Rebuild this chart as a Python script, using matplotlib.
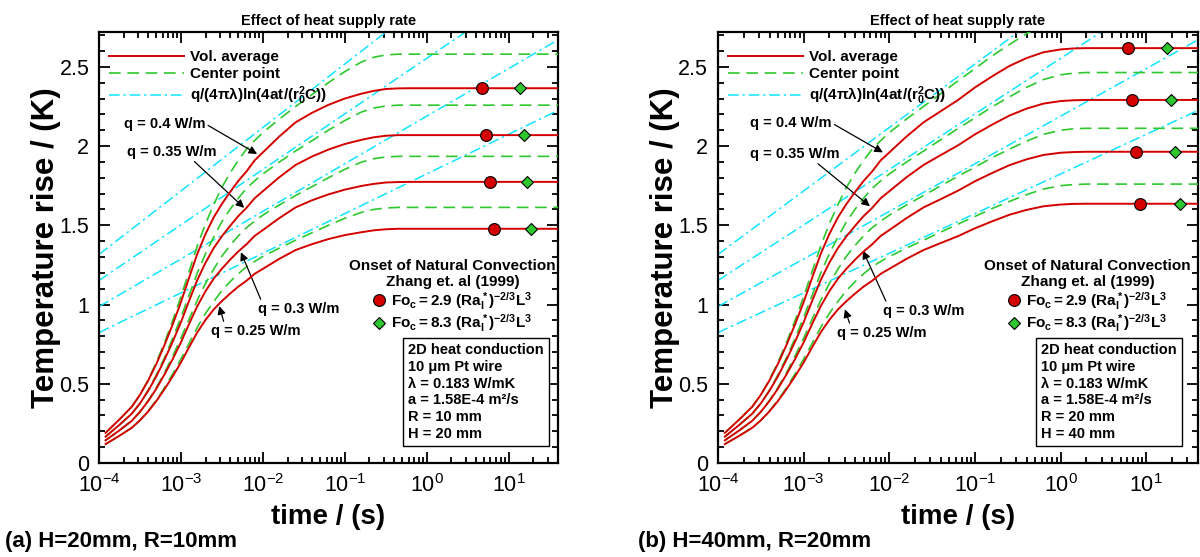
import numpy as np
import matplotlib
matplotlib.use('Agg')
import matplotlib.pyplot as plt
from matplotlib.lines import Line2D
from matplotlib.ticker import MultipleLocator, FormatStrFormatter, LogLocator, NullFormatter

plt.rcParams['font.family'] = ['Liberation Sans', 'DejaVu Sans']
plt.rcParams['mathtext.fontset'] = 'custom'
plt.rcParams['mathtext.rm'] = 'Liberation Sans'
plt.rcParams['mathtext.it'] = 'Liberation Sans:italic'
plt.rcParams['mathtext.bf'] = 'Liberation Sans:bold'

# ---- data ----
q_labels = ['q = 0.4 W/m', 'q = 0.35 W/m', 'q = 0.3 W/m', 'q = 0.25 W/m']

# panel (a): H=20mm, R=10mm  (log10 of time in s)
logt_a = [-3.92, -3.75, -3.6, -3.5, -3.4, -3.3, -3.2, -3.1, -3.0, -2.9, -2.8, -2.7, -2.6, -2.5, -2.4,
          -2.3, -2.2, -2.1, -2.0, -1.8, -1.6, -1.4, -1.2, -1.0, -0.8, -0.65, -0.5, -0.35, -0.2, 1.61]
red_a_q40 = [0.19, 0.275, 0.355, 0.43, 0.52, 0.625, 0.745, 0.875, 1.015, 1.17, 1.32, 1.445, 1.55, 1.635, 1.71,
             1.78, 1.84, 1.91, 1.96, 2.06, 2.15, 2.21, 2.26, 2.30, 2.33, 2.348, 2.36, 2.364, 2.365, 2.365]
red_a_q35 = [0.166, 0.241, 0.311, 0.376, 0.455, 0.547, 0.652, 0.766, 0.888, 1.024, 1.155, 1.264, 1.356, 1.431, 1.496,
             1.558, 1.61, 1.671, 1.715, 1.803, 1.881, 1.934, 1.978, 2.013, 2.039, 2.055, 2.065, 2.069, 2.069, 2.069]
red_a_q30 = [0.143, 0.206, 0.266, 0.323, 0.39, 0.469, 0.559, 0.656, 0.761, 0.878, 0.99, 1.084, 1.163, 1.226, 1.283,
             1.335, 1.38, 1.433, 1.47, 1.545, 1.613, 1.658, 1.695, 1.725, 1.748, 1.761, 1.77, 1.773, 1.774, 1.774]
red_a_q25 = [0.119, 0.172, 0.222, 0.269, 0.325, 0.391, 0.466, 0.547, 0.634, 0.731, 0.825, 0.903, 0.969, 1.022, 1.069,
             1.113, 1.15, 1.194, 1.225, 1.288, 1.344, 1.381, 1.413, 1.438, 1.456, 1.468, 1.475, 1.478, 1.478, 1.478]
green_a_q40 = [0.19, 0.275, 0.355, 0.43, 0.525, 0.635, 0.76, 0.9, 1.05, 1.21, 1.37, 1.51, 1.63, 1.74, 1.83,
               1.91, 1.98, 2.035, 2.085, 2.17, 2.25, 2.325, 2.40, 2.47, 2.53, 2.56, 2.575, 2.58, 2.58, 2.58]
green_a_q35 = [0.166, 0.241, 0.311, 0.376, 0.459, 0.556, 0.665, 0.788, 0.919, 1.059, 1.199, 1.321, 1.426, 1.523, 1.601,
               1.671, 1.733, 1.781, 1.824, 1.899, 1.969, 2.034, 2.10, 2.161, 2.214, 2.24, 2.253, 2.258, 2.258, 2.258]
green_a_q30 = [0.143, 0.206, 0.266, 0.323, 0.394, 0.476, 0.57, 0.675, 0.788, 0.908, 1.028, 1.133, 1.223, 1.305, 1.373,
               1.433, 1.485, 1.526, 1.564, 1.628, 1.688, 1.744, 1.80, 1.853, 1.898, 1.92, 1.931, 1.935, 1.935, 1.935]
green_a_q25 = [0.119, 0.172, 0.222, 0.269, 0.328, 0.397, 0.475, 0.563, 0.656, 0.756, 0.856, 0.944, 1.019, 1.088, 1.144,
               1.194, 1.238, 1.272, 1.303, 1.356, 1.406, 1.453, 1.50, 1.544, 1.581, 1.60, 1.609, 1.613, 1.613, 1.613]
circle_t_a = [4.75, 5.3, 5.9, 6.6]
diamond_t_a = [13.7, 15.2, 16.7, 18.8]
onset_T_a = [2.365, 2.069, 1.774, 1.478]

# panel (b): H=40mm, R=20mm
logt_b = [-3.92, -3.75, -3.6, -3.5, -3.4, -3.3, -3.2, -3.1, -3.0, -2.9, -2.8, -2.7, -2.6, -2.5, -2.4, -2.3,
          -2.2, -2.1, -2.0, -1.8, -1.6, -1.4, -1.2, -1.0, -0.8, -0.6, -0.4, -0.2, 0.0, 0.15, 0.3, 1.61]
red_b_q40 = [0.19, 0.275, 0.355, 0.43, 0.52, 0.625, 0.745, 0.875, 1.015, 1.17, 1.32, 1.445, 1.55, 1.635, 1.71, 1.78,
             1.84, 1.91, 1.96, 2.06, 2.15, 2.22, 2.29, 2.37, 2.44, 2.505, 2.555, 2.592, 2.61, 2.616, 2.618, 2.618]
red_b_q35 = [0.166, 0.241, 0.311, 0.376, 0.455, 0.547, 0.652, 0.766, 0.888, 1.024, 1.155, 1.264, 1.356, 1.431, 1.496, 1.558,
             1.61, 1.671, 1.715, 1.803, 1.881, 1.943, 2.004, 2.074, 2.135, 2.192, 2.236, 2.268, 2.284, 2.289, 2.291, 2.291]
red_b_q30 = [0.143, 0.206, 0.266, 0.323, 0.39, 0.469, 0.559, 0.656, 0.761, 0.878, 0.99, 1.084, 1.163, 1.226, 1.283, 1.335,
             1.38, 1.433, 1.47, 1.545, 1.613, 1.665, 1.718, 1.778, 1.83, 1.879, 1.916, 1.944, 1.958, 1.962, 1.964, 1.964]
red_b_q25 = [0.119, 0.172, 0.222, 0.269, 0.325, 0.391, 0.466, 0.547, 0.634, 0.731, 0.825, 0.903, 0.969, 1.022, 1.069, 1.113,
             1.15, 1.194, 1.225, 1.288, 1.344, 1.388, 1.431, 1.481, 1.525, 1.566, 1.597, 1.62, 1.631, 1.635, 1.636, 1.636]
green_b_q40 = [0.19, 0.275, 0.355, 0.43, 0.525, 0.635, 0.76, 0.9, 1.05, 1.21, 1.37, 1.51, 1.63, 1.74, 1.83, 1.91,
               1.98, 2.035, 2.085, 2.17, 2.25, 2.331, 2.411, 2.489, 2.569, 2.64, 2.709, 2.766, 2.80, 2.811, 2.816, 2.816]
green_b_q35 = [0.166, 0.241, 0.311, 0.376, 0.459, 0.556, 0.665, 0.788, 0.919, 1.059, 1.199, 1.321, 1.426, 1.523, 1.601, 1.671,
               1.733, 1.781, 1.824, 1.899, 1.969, 2.04, 2.11, 2.178, 2.248, 2.31, 2.37, 2.42, 2.45, 2.46, 2.464, 2.464]
green_b_q30 = [0.143, 0.206, 0.266, 0.323, 0.394, 0.476, 0.57, 0.675, 0.788, 0.908, 1.028, 1.133, 1.223, 1.305, 1.373, 1.433,
               1.485, 1.526, 1.564, 1.628, 1.688, 1.749, 1.809, 1.867, 1.927, 1.98, 2.031, 2.074, 2.10, 2.109, 2.112, 2.112]
green_b_q25 = [0.119, 0.172, 0.222, 0.269, 0.328, 0.397, 0.475, 0.563, 0.656, 0.756, 0.856, 0.944, 1.019, 1.088, 1.144, 1.194,
               1.238, 1.272, 1.303, 1.356, 1.406, 1.457, 1.507, 1.556, 1.606, 1.65, 1.693, 1.729, 1.75, 1.757, 1.76, 1.76]
circle_t_b = [6.1, 6.8, 7.5, 8.5]
diamond_t_b = [17.5, 19.5, 21.4, 24.5]
onset_T_b = [2.618, 2.291, 1.964, 1.636]

# line-source asymptote q/(4 pi lambda) ln(4at/(r0^2 C)): straight on log-time axis
asym_t = [1e-4, 40.0]
asym_q40 = [1.316, 3.56]
asym_q35 = [1.152, 3.115]
asym_q30 = [0.987, 2.67]
asym_q25 = [0.823, 2.225]

RED = '#d40000'
GREEN = '#2ec82e'
CYAN = '#10e4ff'
LBL = dict(fontsize=10.5, fontweight='bold')


def draw_panel(ax, logt, reds, greens, circle_t, diamond_t, onset_T, arrows, R_text, H_text):
    t = 10.0 ** np.array(logt)
    asym = [asym_q40, asym_q35, asym_q30, asym_q25]
    h_red = h_green = h_cyan = None
    for i in range(4):
        h_cyan, = ax.plot(asym_t, asym[i], color=CYAN, lw=1.1, dashes=(7, 2.5, 1.5, 2.5), zorder=2)
        h_green, = ax.plot(t, greens[i], color=GREEN, lw=1.2, dashes=(7, 4), zorder=3)
        h_red, = ax.plot(t, reds[i], color=RED, lw=1.4, zorder=4)
    ax.plot(circle_t, onset_T, 'o', ms=8.5, mfc=RED, mec='black', mew=0.8, ls='none', zorder=5)
    ax.plot(diamond_t, onset_T, 'D', ms=6.5, mfc=GREEN, mec='black', mew=0.8, ls='none', zorder=5)

    ax.set_xscale('log')
    ax.set_xlim(1e-4, 40)
    ax.set_ylim(0, 2.72)
    ax.xaxis.set_major_locator(LogLocator(base=10, numticks=12))
    ax.xaxis.set_minor_locator(LogLocator(base=10, subs=np.arange(2, 10), numticks=100))
    ax.xaxis.set_minor_formatter(NullFormatter())
    ax.yaxis.set_major_locator(MultipleLocator(0.5))
    ax.yaxis.set_minor_locator(MultipleLocator(0.1))
    ax.yaxis.set_major_formatter(FormatStrFormatter('%g'))
    ax.tick_params(which='both', direction='in', top=True, right=True, width=1.3, labelsize=15.5)
    ax.tick_params(which='major', length=8)
    ax.tick_params(which='minor', length=4.5)
    ax.tick_params(axis='x', pad=8)
    ax.tick_params(axis='y', pad=7)
    for sp in ax.spines.values():
        sp.set_linewidth(1.6)

    ax.set_title('Effect of heat supply rate', fontsize=10.5, fontweight='bold', pad=5)
    ax.set_xlabel('time / (s)', fontsize=20, fontweight='bold', labelpad=5)
    ax.set_ylabel('Temperature rise / (K)', fontsize=22.5, fontweight='bold', labelpad=-1)

    leg = ax.legend([h_red, h_green, h_cyan],
                    ['Vol. average', 'Center point', '$\\mathbf{q/(4\\pi\\lambda)ln(4at/(r_0^2C))}$'],
                    loc='upper left', bbox_to_anchor=(0.005, 0.975), frameon=False,
                    prop={'weight': 'bold', 'size': 11}, handlelength=4.9, handletextpad=0.4,
                    labelspacing=0.2, borderaxespad=0.3, borderpad=0.2)
    ax.add_artist(leg)

    onset_handles = [Line2D([], [], marker='o', ls='none', ms=8.5, mfc=RED, mec='black', mew=0.8),
                     Line2D([], [], marker='D', ls='none', ms=6.5, mfc=GREEN, mec='black', mew=0.8)]
    onset_labels = ['$\\mathbf{Fo_c = 2.9\\ (Ra_l^*)^{-2/3}L^3}$',
                    '$\\mathbf{Fo_c = 8.3\\ (Ra_l^*)^{-2/3}L^3}$']
    leg2 = ax.legend(onset_handles, onset_labels, loc='upper center', bbox_to_anchor=(0.77, 0.495),
                     frameon=False, prop={'weight': 'bold', 'size': 11}, handlelength=0.8,
                     handletextpad=0.4, labelspacing=0.05, borderpad=0.1,
                     title='Onset of Natural Convection\nZhang et. al (1999)',
                     title_fontproperties={'weight': 'bold', 'size': 11})
    leg2.get_title().set_multialignment('center')

    for i, (tip_logt, tip_T, tx, ty, rel) in enumerate(arrows):
        ax.annotate(q_labels[i], xy=(10.0 ** tip_logt, tip_T), xycoords='data',
                    xytext=(tx, ty), textcoords='axes fraction', ha='left', va='center', **LBL,
                    arrowprops=dict(arrowstyle='-|>', color='black', lw=0.9, shrinkA=0, shrinkB=0,
                                    mutation_scale=12, relpos=rel))

    info = ('2D heat conduction\n10 \u03bcm Pt wire\n\u03bb = 0.183 W/mK\n'
            'a = 1.58E-4 m\u00b2/s\nR = ' + R_text + '\nH = ' + H_text)
    ax.text(0.673, 0.278, info, transform=ax.transAxes, ha='left', va='top', fontsize=10.5,
            fontweight='bold', linespacing=1.25,
            bbox=dict(boxstyle='square,pad=0.35', fc='white', ec='black', lw=1.0), zorder=6)


fig = plt.figure(figsize=(12, 5.57), dpi=100)
ax_a = fig.add_axes([0.0825, 0.1688, 0.3825, 0.7738])
ax_b = fig.add_axes([0.5983, 0.1688, 0.4, 0.7738])

arrows_a = [(-2.07, 1.95, 0.054, 0.787, (1.0, 0.5)),
            (-2.228, 1.61, 0.061, 0.722, (0.72, 0.0)),
            (-2.268, 1.33, 0.346, 0.357, (0.05, 1.0)),
            (-2.532, 0.99, 0.244, 0.306, (0.15, 1.0))]
arrows_b = [(-2.075, 1.96, 0.067, 0.789, (1.0, 0.5)),
            (-2.226, 1.62, 0.067, 0.717, (0.72, 0.0)),
            (-2.308, 1.34, 0.344, 0.353, (0.05, 1.0)),
            (-2.518, 0.97, 0.248, 0.302, (0.15, 1.0))]

draw_panel(ax_a, logt_a, [red_a_q40, red_a_q35, red_a_q30, red_a_q25],
           [green_a_q40, green_a_q35, green_a_q30, green_a_q25],
           circle_t_a, diamond_t_a, onset_T_a, arrows_a, '10 mm', '20 mm')
draw_panel(ax_b, logt_b, [red_b_q40, red_b_q35, red_b_q30, red_b_q25],
           [green_b_q40, green_b_q35, green_b_q30, green_b_q25],
           circle_t_b, diamond_t_b, onset_T_b, arrows_b, '20 mm', '40 mm')

fig.text(0.004, 0.027, '(a) H=20mm, R=10mm', fontsize=16, fontweight='bold', va='center')
fig.text(0.532, 0.027, '(b) H=40mm, R=20mm', fontsize=16, fontweight='bold', va='center')

fig.savefig('out.png', dpi=100)
